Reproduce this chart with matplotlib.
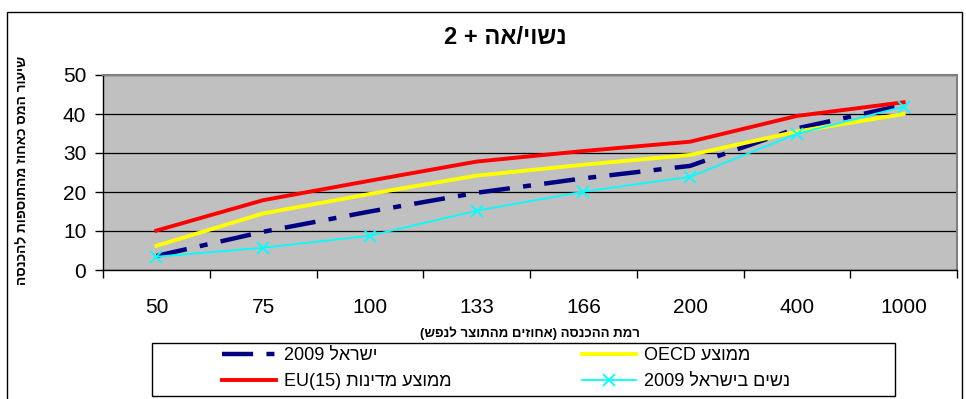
import re

import matplotlib
matplotlib.use("Agg")
import matplotlib.pyplot as plt
from matplotlib.patches import Rectangle


def heb(s):
    # matplotlib has no bidi: lay the Hebrew out right-to-left by hand,
    # keeping latin / digit runs in their own order
    parts = re.split(r"([A-Za-z0-9]+(?:\([0-9]+\))?)", s)
    vis = []
    for i, p in enumerate(parts):
        if i % 2:
            vis.append(p)
        else:
            vis.append(p[::-1].translate(str.maketrans("()", ")(")))
    return "".join(vis[::-1])


# data
categories = ["50", "75", "100", "133", "166", "200", "400", "1000"]
israel_2009 = [3.6, 9.8, 15.0, 19.8, 23.5, 26.7, 36.3, 42.3]
oecd_avg = [6.2, 14.5, 19.5, 24.2, 27.0, 29.5, 35.5, 40.0]
eu15_avg = [10.1, 17.9, 22.9, 27.8, 30.5, 32.9, 39.5, 43.0]
women_2009 = [3.4, 5.7, 8.8, 15.2, 20.1, 23.9, 34.9, 41.9]

title = "נשוי/אה + 2"
xlabel = "רמת ההכנסה (אחוזים מהתוצר לנפש)"
ylabel = "שיעור המס כאחוז מהתוספות להכנסה"
names = ["ישראל 2009", "ממוצע OECD", "ממוצע מדינות EU(15)", "נשים בישראל 2009"]

plt.rcParams["font.family"] = ["Liberation Sans", "DejaVu Sans"]

fig = plt.figure(figsize=(9.66, 3.99), dpi=100)
ax = fig.add_axes([103 / 966, 1 - 270 / 399, 854 / 966, 195 / 399])
ax.set_facecolor("#C0C0C0")

x = range(len(categories))
l_isr, = ax.plot(x, israel_2009, color="#000080", lw=3.2, dashes=(7, 3, 1.8, 3),
                 solid_capstyle="butt", dash_capstyle="butt")
l_oecd, = ax.plot(x, oecd_avg, color="#FFFF00", lw=2.8)
l_eu, = ax.plot(x, eu15_avg, color="#FF0000", lw=2.8)
l_wom, = ax.plot(x, women_2009, color="#00FFFF", lw=1.3, marker="x",
                 markersize=8, markeredgewidth=1.3)

ax.set_xlim(-0.5, len(categories) - 0.5)
ax.set_ylim(0, 50)
ax.set_yticks(range(0, 51, 10))
ax.set_xticks([i + 0.5 for i in range(-1, len(categories))], minor=False)
ax.set_xticklabels([])
ax.set_xticks(list(x), minor=True)
ax.set_xticklabels(categories, minor=True)
ax.tick_params(axis="x", which="major", length=6, width=1, color="black", direction="out")
ax.tick_params(axis="x", which="minor", length=0, pad=20, labelsize=15)
ax.tick_params(axis="y", length=6, width=1, direction="out", labelsize=15, pad=6)
ax.yaxis.grid(True, color="black", lw=0.9)
ax.set_axisbelow(True)
for side in ["top", "right"]:
    ax.spines[side].set_color("#808080")
    ax.spines[side].set_linewidth(1.5)
for side in ["left", "bottom"]:
    ax.spines[side].set_color("black")
    ax.spines[side].set_linewidth(1)

fig.text(505 / 966, 1 - 38 / 399, heb(title), ha="center", va="center",
         fontsize=17, fontweight="bold")
fig.text(530 / 966, 1 - 333 / 399, heb(xlabel), ha="center", va="center",
         fontsize=9.5, fontweight="bold")
fig.text(22 / 966, 1 - 170 / 399, heb(ylabel), ha="center", va="center",
         rotation=90, fontsize=9.8, fontweight="bold")

# chart area border
fig.patches.append(Rectangle((7 / 966, -0.05), 955 / 966, 1.05 - 12 / 399,
                             transform=fig.transFigure, fill=False,
                             edgecolor="black", lw=1))

# legend frame drawn separately, entries placed inside it
fig.patches.append(Rectangle((152 / 966, 3 / 399), 743 / 966, 53 / 399,
                             transform=fig.transFigure, fill=False,
                             edgecolor="black", lw=1))
leg = fig.legend([l_isr, l_eu, l_oecd, l_wom],
                 [heb(names[0]), heb(names[2]), heb(names[1]), heb(names[3])],
                 ncol=2, loc="upper left",
                 bbox_to_anchor=(222 / 966, 1 - 347 / 399),
                 fontsize=13, frameon=False, borderpad=0, labelspacing=0.5,
                 handlelength=3.0, handletextpad=0.45, columnspacing=7.2,
                 borderaxespad=0)

fig.savefig("out.png", dpi=100)
